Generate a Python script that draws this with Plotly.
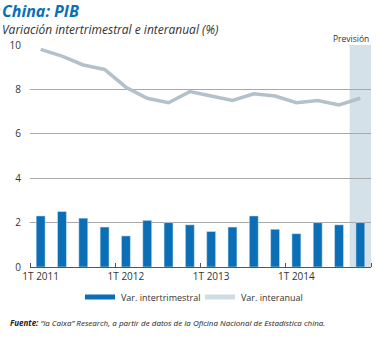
import plotly.graph_objects as go

quarters = ["1T 2011","2T 2011","3T 2011","4T 2011",
            "1T 2012","2T 2012","3T 2012","4T 2012",
            "1T 2013","2T 2013","3T 2013","4T 2013",
            "1T 2014","2T 2014","3T 2014","4T 2014"]
var_intertrimestral = [2.3, 2.5, 2.2, 1.8, 1.4, 2.1, 2.0, 1.9, 1.6, 1.8, 2.3, 1.7, 1.5, 2.0, 1.9, 2.0]
var_interanual = [9.8, 9.5, 9.1, 8.9, 8.1, 7.6, 7.4, 7.9, 7.7, 7.5, 7.8, 7.7, 7.4, 7.5, 7.3, 7.6]
tick_labels = ["1T 2011", "1T 2012", "1T 2013", "1T 2014"]
forecast_index = 15

x = list(range(len(quarters)))
FONT = "Open Sans"
BLUE = "#0a6fb7"
GREY = "#b3c2ca"

fig = go.Figure()
fig.add_trace(go.Bar(x=x, y=var_intertrimestral, marker_color=BLUE, width=0.42,
                     name="Var. intertrimestral", showlegend=False))
fig.add_trace(go.Scatter(x=x, y=var_interanual, mode="lines",
                         line=dict(color=GREY, width=3.5), name="Var. interanual",
                         showlegend=False))

# forecast shading
fig.add_shape(type="rect", xref="x", yref="paper", x0=forecast_index - 0.5, x1=forecast_index + 0.5,
              y0=0, y1=1, fillcolor="#d4e1e9", line_width=0, layer="below")

fig.update_layout(
    width=380, height=338,
    margin=dict(l=30, r=9, t=45, b=71),
    plot_bgcolor="white", paper_bgcolor="white",
    bargap=0.5,
    font=dict(family=FONT, size=10, color="#333333"),
    xaxis=dict(range=[-0.5, 15.5], tickvals=[0, 4, 8, 12], ticktext=tick_labels,
               ticks="", showgrid=False, zeroline=False, showline=True,
               linecolor="#555555", linewidth=1,
               tickfont=dict(size=10, family=FONT, color="#333333"),
               minor=dict(tick0=-0.5, dtick=4, ticks="inside", ticklen=4,
                          tickcolor="#555555", showgrid=False)),
    yaxis=dict(range=[0, 10], dtick=2, showgrid=True, gridcolor="#a8a8a8", gridwidth=1,
               zeroline=False, showline=False, ticks="", ticklabelstandoff=8,
               tickfont=dict(size=10, family=FONT, color="#333333")),
)

fig.add_annotation(xref="paper", yref="paper", x=-30/341, y=1 + 34/222, xanchor="left", yanchor="middle",
                   text="<b><i>China: PIB</i></b>", showarrow=False,
                   font=dict(size=16, color="#0a6fb7", family=FONT))
fig.add_annotation(xref="paper", yref="paper", x=-30/341, y=1 + 16/222, xanchor="left", yanchor="middle",
                   text="<i>Variación intertrimestral e interanual (%)</i>", showarrow=False,
                   font=dict(size=12, color="#333333", family=FONT))
fig.add_annotation(xref="x", yref="paper", x=forecast_index + 0.5, y=1 + 7/222, xanchor="right", yanchor="middle",
                   text="Previsión", showarrow=False,
                   font=dict(size=8.5, color="#333333", family=FONT))

# legend drawn manually
fig.add_shape(type="line", xref="paper", yref="paper", x0=(85-30)/341, x1=(115-30)/341,
              y0=-30/222, y1=-30/222, line=dict(color=BLUE, width=5))
fig.add_annotation(xref="paper", yref="paper", x=(119-30)/341, y=-30/222, xanchor="left", yanchor="middle",
                   text="Var. intertrimestral", showarrow=False, font=dict(size=9, family=FONT, color="#333333"))
fig.add_shape(type="line", xref="paper", yref="paper", x0=(205-30)/341, x1=(235-30)/341,
              y0=-30/222, y1=-30/222, line=dict(color="#d0dce3", width=5))
fig.add_annotation(xref="paper", yref="paper", x=(239-30)/341, y=-30/222, xanchor="left", yanchor="middle",
                   text="Var. interanual", showarrow=False, font=dict(size=9, family=FONT, color="#333333"))

fig.add_annotation(xref="paper", yref="paper", x=-22/341, y=-55/222, xanchor="left", yanchor="middle",
                   text="<b><i>Fuente:</i></b><i> “la Caixa” Research, a partir de datos de la Oficina Nacional de Estadística china.</i>",
                   showarrow=False, font=dict(size=8, family=FONT, color="#222222"))

fig.write_html("out.html")
